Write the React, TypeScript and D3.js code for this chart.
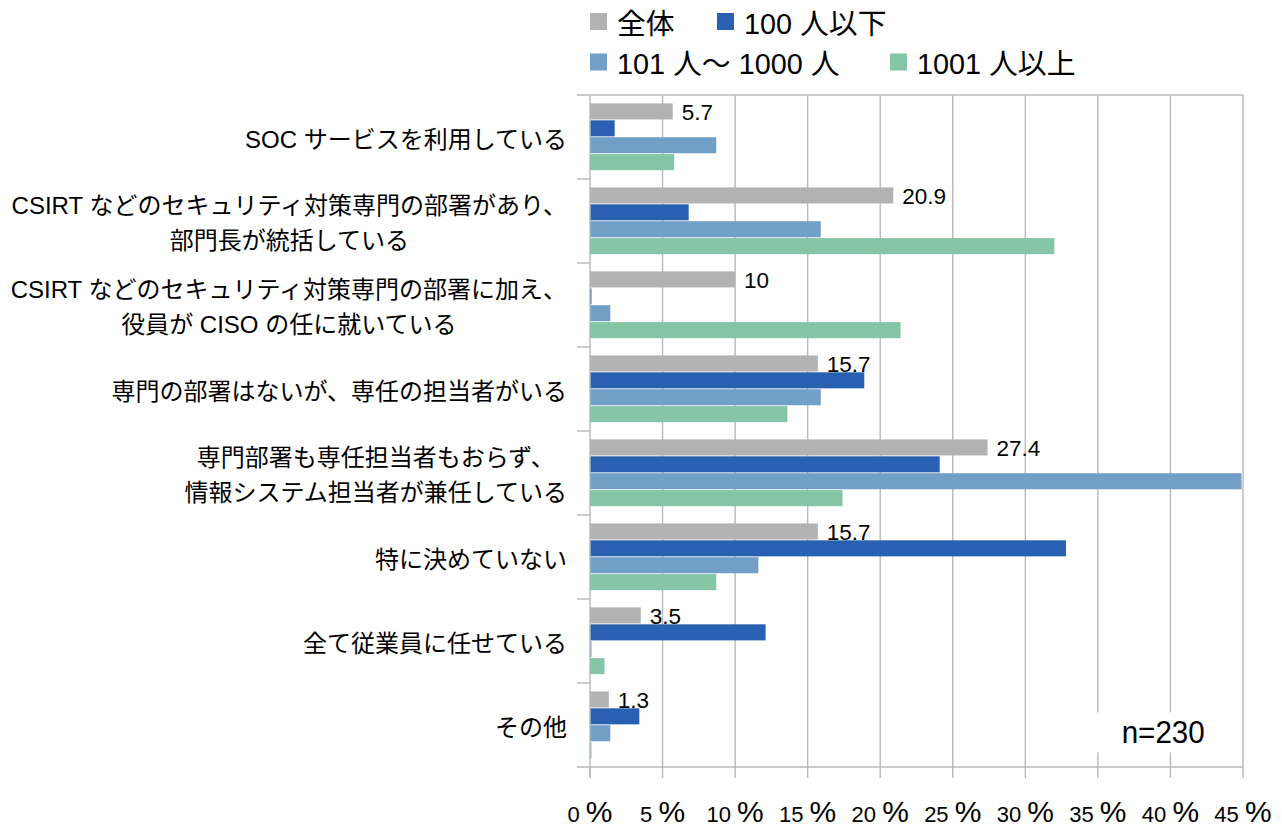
import React, { useRef, useEffect } from 'react';
import * as d3 from 'd3';

// categories (multi-line labels), top to bottom
const categories: string[][] = [
  ['SOC サービスを利用している'],
  ['CSIRT などのセキュリティ対策専門の部署があり、', '部門長が統括している'],
  ['CSIRT などのセキュリティ対策専門の部署に加え、', '役員が CISO の任に就いている'],
  ['専門の部署はないが、専任の担当者がいる'],
  ['専門部署も専任担当者もおらず、', '情報システム担当者が兼任している'],
  ['特に決めていない'],
  ['全て従業員に任せている'],
  ['その他'],
];

const seriesNames = ['全体', '100 人以下', '101 人～ 1000 人', '1001 人以上'];
const seriesColors = ['#b2b2b2', '#2a60b1', '#729fc6', '#83c5a5'];

const totalValues = [5.7, 20.9, 10, 15.7, 27.4, 15.7, 3.5, 1.3];
const smallValues = [1.7, 6.8, 0.1, 18.9, 24.1, 32.8, 12.1, 3.4];
const midValues = [8.7, 15.9, 1.4, 15.9, 44.9, 11.6, 0.1, 1.4];
const largeValues = [5.8, 32.0, 21.4, 13.6, 17.4, 8.7, 1.0, 0.1];

const xTicks = [0, 5, 10, 15, 20, 25, 30, 35, 40, 45];
const sampleLabel = 'n=230';

const W = 1282;
const H = 837;
const margin = { top: 95, right: 39, bottom: 70, left: 590 };
const FONT = "'Liberation Sans', Arial, 'Noto Sans CJK JP', sans-serif";

const App: React.FC = () => {
  const svgRef = useRef<SVGSVGElement>(null);

  useEffect(() => {
    if (!svgRef.current) return;
    const svg = d3.select(svgRef.current);
    svg.selectAll('*').remove();

    const series = [totalValues, smallValues, midValues, largeValues];
    const x0 = margin.left;
    const x1 = W - margin.right;
    const y0 = margin.top;
    const y1 = H - margin.bottom;

    const x = d3.scaleLinear().domain([0, 45]).range([x0, x1]);
    const y = d3.scaleBand<number>()
      .domain(d3.range(categories.length))
      .range([y0, y1])
      .padding(0);
    const step = y.step();
    const inner = d3.scaleBand<number>()
      .domain(d3.range(series.length))
      .range([step * 0.1, step * 0.895])
      .paddingInner(0.05);

    const gridColor = '#b8b8b8';

    // vertical gridlines
    svg.append('g')
      .selectAll('line')
      .data(xTicks.filter(t => t > 0))
      .enter()
      .append('line')
      .attr('x1', d => x(d))
      .attr('x2', d => x(d))
      .attr('y1', y0)
      .attr('y2', y1)
      .attr('stroke', gridColor)
      .attr('stroke-width', 1.4);

    // n=230 box
    svg.append('rect')
      .attr('x', x(34.6))
      .attr('y', y(7)! + step * 0.35)
      .attr('width', x(44.5) - x(34.6))
      .attr('height', 40)
      .attr('fill', '#fff');
    svg.append('text')
      .attr('x', x(39.5))
      .attr('y', y(7)! + step * 0.35 + 31)
      .attr('text-anchor', 'middle')
      .attr('font-family', FONT)
      .attr('font-size', 32)
      .attr('textLength', 83)
      .attr('lengthAdjust', 'spacingAndGlyphs')
      .attr('fill', '#000')
      .text(sampleLabel);

    // bars
    series.forEach((vals, si) => {
      svg.append('g')
        .selectAll('rect')
        .data(vals)
        .enter()
        .append('rect')
        .attr('x', x(0))
        .attr('y', (_, i) => y(i)! + inner(si)!)
        .attr('width', d => x(d) - x(0))
        .attr('height', inner.bandwidth())
        .attr('fill', seriesColors[si]);
    });

    // value labels for 全体
    svg.append('g')
      .selectAll('text')
      .data(totalValues)
      .enter()
      .append('text')
      .attr('x', d => x(d) + 9)
      .attr('y', (_, i) => y(i)! + inner(0)! + inner.bandwidth() / 2)
      .attr('dy', '0.36em')
      .attr('font-family', FONT)
      .attr('font-size', 22.5)
      .attr('fill', '#000')
      .text(d => String(d));

    // frame: top line, left axis, bottom axis
    const axis = svg.append('g').attr('stroke', gridColor).attr('stroke-width', 1.4);
    axis.append('line').attr('x1', x0 - 13).attr('x2', x1).attr('y1', y0).attr('y2', y0);
    axis.append('line').attr('x1', x0 - 13).attr('x2', x1).attr('y1', y1).attr('y2', y1);
    axis.append('line').attr('x1', x0).attr('x2', x0).attr('y1', y0).attr('y2', y1 + 11);
    axis.selectAll('line.cat-tick')
      .data(d3.range(1, categories.length))
      .enter()
      .append('line')
      .attr('class', 'cat-tick')
      .attr('x1', x0 - 13)
      .attr('x2', x0)
      .attr('y1', d => y0 + d * step)
      .attr('y2', d => y0 + d * step);
    axis.selectAll('line.x-tick')
      .data(xTicks)
      .enter()
      .append('line')
      .attr('class', 'x-tick')
      .attr('x1', d => x(d))
      .attr('x2', d => x(d))
      .attr('y1', y1)
      .attr('y2', y1 + 11);

    // x tick labels
    const xl = svg.append('g')
      .selectAll('text')
      .data(xTicks)
      .enter()
      .append('text')
      .attr('x', d => x(d))
      .attr('y', 822)
      .attr('text-anchor', 'middle')
      .attr('font-family', FONT)
      .attr('fill', '#000');
    xl.append('tspan').attr('font-size', 22).text(d => `${d} `);
    xl.append('tspan').attr('font-size', 30).text('%');

    // category labels: block right-aligned, lines centred within block
    const labelRight = 567;
    categories.forEach((lines, i) => {
      const cy = y(i)! + step / 2 + 2;
      const lineH = 35;
      const texts = lines.map((ln, li) =>
        svg.append('text')
          .attr('y', cy + (li - (lines.length - 1) / 2) * lineH)
          .attr('dy', '0.36em')
          .attr('text-anchor', 'middle')
          .attr('font-family', FONT)
          .attr('font-size', 24)
          .attr('fill', '#000')
          .text(ln)
      );
      const maxW = d3.max(texts, t => (t.node() as SVGTextElement).getComputedTextLength()) || 0;
      texts.forEach(t => t.attr('x', labelRight - maxW / 2));
    });

    // legend
    const legendPos = [
      { x: 590, y: 13 },
      { x: 717, y: 13 },
      { x: 590, y: 53.5 },
      { x: 890, y: 53.5 },
    ];
    const lg = svg.append('g');
    seriesNames.forEach((name, i) => {
      const p = legendPos[i];
      lg.append('rect')
        .attr('x', p.x)
        .attr('y', p.y)
        .attr('width', 17)
        .attr('height', 17)
        .attr('fill', seriesColors[i]);
      lg.append('text')
        .attr('x', p.x + 27)
        .attr('y', p.y + 20.5)
        .attr('font-family', FONT)
        .attr('font-size', 28.8)
        .attr('fill', '#000')
        .text(name);
    });
  }, []);

  return (
    <svg
      ref={svgRef}
      width={W}
      height={H}
      style={{ position: 'absolute', left: 0, top: 0, background: '#fff' }}
    />
  );
};

export default App;
